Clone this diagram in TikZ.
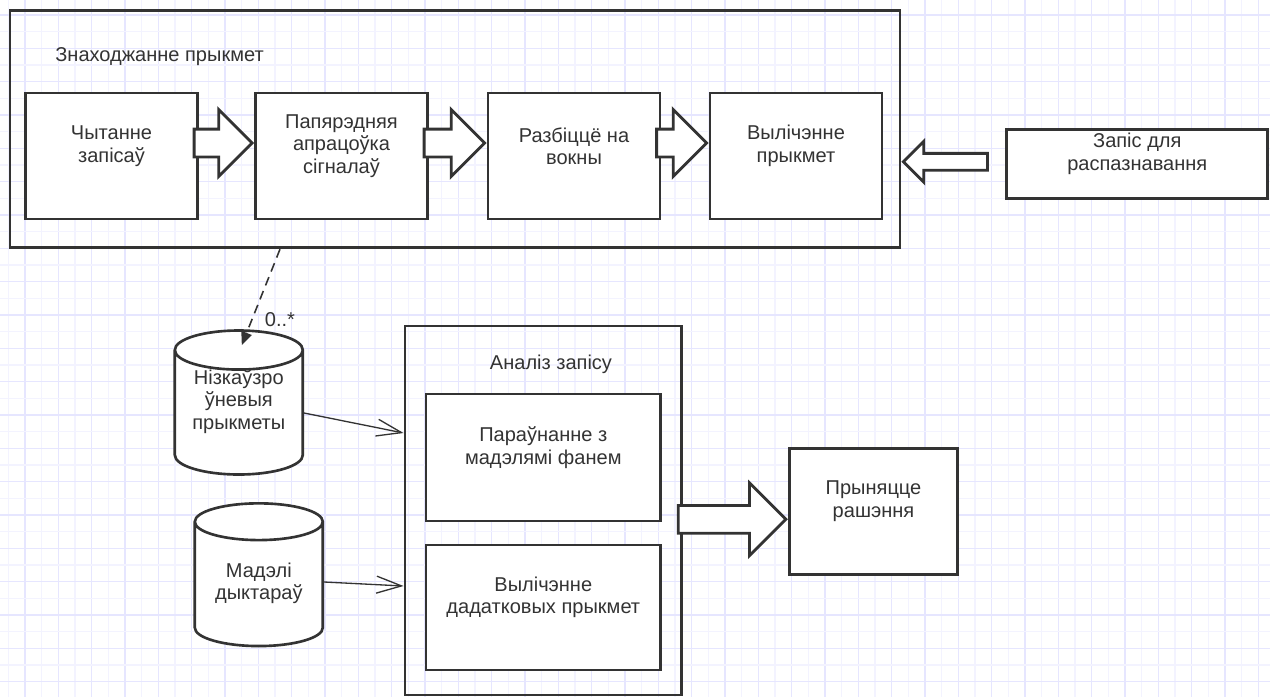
\documentclass[tikz,border=0pt]{standalone}
\usepackage{fontspec}
\setmainfont{Liberation Sans}
\usetikzlibrary{arrows.meta,shapes.geometric,shapes.arrows}

\newdimen\pxu
\pxu=0.02cm

\definecolor{gridweak}{RGB}{243,243,255}
\definecolor{gridstrong}{RGB}{230,230,255}
\definecolor{ink}{RGB}{51,51,51}

\tikzset{
  groupframe/.style={draw=ink, line width=1.6pt, inner sep=0pt},
  stepbox/.style={draw=ink, line width=1.6pt, fill=white, inner sep=0pt},
  boxlbl/.style={align=center, shift={(0,-10)}},
  dbase/.style={cylinder, shape border rotate=90, aspect=0.42, draw=ink, line width=1.5pt,
    fill=white, inner sep=0pt, align=center, minimum width=128\pxu, minimum height=144\pxu,
    anchor=shape center},
  blockarrow/.style={single arrow, draw=ink, line width=1.6pt, fill=white, inner xsep=0pt,
    inner ysep=12.5\pxu, single arrow head extend=19.5\pxu, minimum width=64\pxu},
  thinarrow/.style={draw=ink, line width=0.75pt, -{Straight Barb[length=0.5cm, width=0.34cm]}},
  dashlink/.style={draw=ink, line width=0.9pt, dash pattern=on 0.18cm off 0.12cm,
    -{Triangle[length=0.26cm, width=0.22cm]}}
}

\begin{document}
\begin{tikzpicture}[x=0.02cm, y=-0.02cm, font=\fontsize{11.4}{12.8}\selectfont, text=ink]
\useasboundingbox[fill=white] (0,0) rectangle (1270,697);
% background grid
\foreach \k in {0,...,37} {
  \draw[gridweak, line width=0.6pt] ({8.333+33.333*\k},0) -- ++(0,697);
  \draw[gridstrong, line width=0.6pt] ({25+33.333*\k},0) -- ++(0,697);
}
\foreach \k in {0,...,20} {
  \draw[gridweak, line width=0.6pt] (0,{31.667+33.333*\k}) -- ++(1270,0);
  \draw[gridstrong, line width=0.6pt] (0,{15+33.333*\k}) -- ++(1270,0);
}

% feature extraction
\node[groupframe, minimum width=890\pxu, minimum height=237\pxu] (findframe) at (455,129.3) {};
\node[anchor=west, inner sep=0pt] (findtitle) at (55,57) {Знаходжанне прыкмет};
\node[stepbox, minimum width=172\pxu, minimum height=126\pxu, label={[boxlbl]center:{Чытанне\\запісаў}}] (read) at (111.5,156) {};
\node[stepbox, minimum width=172\pxu, minimum height=126\pxu, label={[boxlbl]center:{Папярэдняя\\апрацоўка\\сігналаў}}] (prep) at (341.5,156) {};
\node[stepbox, minimum width=172\pxu, minimum height=126\pxu, label={[boxlbl]center:{Разбіццё на\\вокны}}] (split) at (574,156) {};
\node[stepbox, minimum width=172\pxu, minimum height=126\pxu, label={[boxlbl]center:{Вылічэнне\\прыкмет}}] (feat) at (796,156) {};
\node[stepbox, minimum width=261\pxu, minimum height=69\pxu, label={[boxlbl]center:{Запіс для\\распазнавання}}] (input) at (1137.3,163.8) {};

\node[blockarrow, minimum height=58\pxu, anchor=tip] (a1) at ([shift={(0,-13)}]prep.west) {};
\node[blockarrow, minimum height=60.5\pxu, anchor=tip] (a2) at ([shift={(0,-13)}]split.west) {};
\node[blockarrow, minimum height=50\pxu, anchor=tip] (a3) at ([shift={(0,-13)}]feat.west) {};
\node[blockarrow, shape border rotate=180, inner ysep=7\pxu, single arrow head extend=12\pxu,
  minimum width=38\pxu, minimum height=84\pxu, anchor=tip] (a4) at ([shift={(0,-2)}]findframe.east |- input.west) {};

% stores
\node[dbase] (lowdb) at (238.8,402.5) {\phantom{прыкметы}\\\phantom{прыкметы}};
\node[align=center] (lowdbtext) at ([shift={(0,-1)}]lowdb.shape center) {Нізкаўзро\\ўневыя\\прыкметы};
\node[dbase, minimum height=142.7\pxu] (modeldb) at (258.8,574.7) {\phantom{Мадэлі}\\\phantom{дыктараў}};
\node[align=center] (modeldbtext) at ([shift={(0,8.6)}]modeldb.shape center) {Мадэлі\\дыктараў};
\draw[dashlink] (findframe.south -| 280,0) -- ([shift={(3,-57.5)}]lowdb.shape center);
\node (mult) at (280,320) {0..*};

% analysis
\node[groupframe, minimum width=276.7\pxu, minimum height=369\pxu] (anaframe) at (543.3,510.5) {};
\node (anatitle) at (551,364) {Аналіз запісу};
\node[stepbox, minimum width=234.7\pxu, minimum height=127\pxu, label={[boxlbl]center:{Параўнанне з\\мадэлямі фанем}}] (compare) at (543.3,457.5) {};
\node[stepbox, minimum width=234.7\pxu, minimum height=125\pxu, label={[boxlbl]center:{Вылічэнне\\дадатковых прыкмет}}] (extra) at (543.3,607.5) {};
\node[stepbox, minimum width=168.4\pxu, minimum height=126\pxu, label={[boxlbl]center:{Прыняцце\\рашэння}}] (decide) at (873.5,511.3) {};

\draw[thinarrow] (lowdb.east |- 0,413) -- (anaframe.west |- 0,433);
\draw[thinarrow] (modeldb.east |- 0,582) -- (anaframe.west |- 0,586);
\node[blockarrow, inner ysep=12.5\pxu, single arrow head extend=22.5\pxu, minimum width=70\pxu,
  minimum height=107.6\pxu, anchor=tip] (a5) at ([shift={(0,8)}]decide.west) {};
\end{tikzpicture}
\end{document}
